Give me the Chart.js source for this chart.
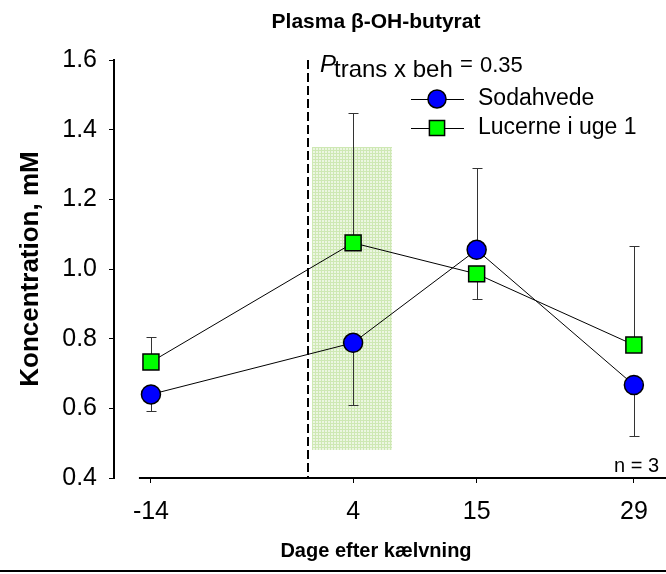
<!DOCTYPE html>
<html>
<head>
<meta charset="utf-8">
<script src="https://cdn.jsdelivr.net/npm/chart.js@4/dist/chart.umd.min.js"></script>
<style>
  body { margin: 0; background: #fff; }
</style>
</head>
<body>
<canvas id="chart" width="666" height="574"></canvas>
<script>
// data
const days = [-14, 4, 15, 29];
const sodaMean = [0.640, 0.788, 1.055, 0.667];
const sodaSE = [0.049, 0.177, 0.235, 0.146];
const sodaSide = [-1, -1, 1, -1];
const lucMean = [0.733, 1.075, 0.986, 0.782];
const lucSE = [0.072, 0.373, 0.072, 0.284];
const lucSide = [1, 1, -1, 1];
const seriesNames = ["Sodahvede", "Lucerne i uge 1"];
const yTickValues = [0.4, 0.6, 0.8, 1.0, 1.2, 1.4, 1.6];

// calving marker and the "week 1" band
const calving = 0;
const bandDays = [0.3, 7.5];
const bandConc = [0.48, 1.35];
const xAxisStart = -15.07;

Chart.defaults.font.family = '"Liberation Sans", Arial, sans-serif';
Chart.defaults.color = "#000";

function toPoints(means){
    return days.map(function(d, i){ return {x: d, y: means[i]}; });
}

// small dotted tile like the hatch in the original
function makeHatch(ctx){
    var tile = document.createElement("canvas");
    tile.width = 3;
    tile.height = 3;
    var t = tile.getContext("2d");
    t.fillStyle = "rgb(236,246,226)";
    t.fillRect(0, 0, 3, 3);
    t.fillStyle = "rgb(206,232,180)";
    t.fillRect(0, 0, 3, 1);
    t.fillRect(0, 0, 1, 3);
    return ctx.createPattern(tile, "repeat");
}

const extras = {
    id: "extras",
    beforeDatasetsDraw: function(chart){
        const ctx = chart.ctx;
        const xs = chart.scales.x;
        const ys = chart.scales.y;
        const area = chart.chartArea;

        // shaded band
        ctx.save();
        ctx.fillStyle = makeHatch(ctx);
        const bx = Math.round(xs.getPixelForValue(bandDays[0]));
        const by = Math.round(ys.getPixelForValue(bandConc[1]));
        ctx.fillRect(bx, by, Math.round(xs.getPixelForValue(bandDays[1])) - bx, Math.round(ys.getPixelForValue(bandConc[0])) - by);

        // dashed line at calving
        const cx = Math.round(xs.getPixelForValue(calving));
        ctx.strokeStyle = "#000";
        ctx.lineWidth = 2;
        ctx.setLineDash([9, 4]);
        ctx.beginPath();
        ctx.moveTo(cx, area.top);
        ctx.lineTo(cx, area.bottom);
        ctx.stroke();
        ctx.setLineDash([]);

        // error bars (one side only)
        ctx.strokeStyle = "#333";
        ctx.lineWidth = 1;
        [[sodaMean, sodaSE, sodaSide], [lucMean, lucSE, lucSide]].forEach(function(s){
            days.forEach(function(d, i){
                const px = Math.round(xs.getPixelForValue(d)) + 0.5;
                const y0 = ys.getPixelForValue(s[0][i]);
                const y1 = Math.round(ys.getPixelForValue(s[0][i] + s[2][i] * s[1][i])) + 0.5;
                ctx.beginPath();
                ctx.moveTo(px, y0);
                ctx.lineTo(px, y1);
                ctx.moveTo(px - 5, y1);
                ctx.lineTo(px + 5, y1);
                ctx.stroke();
            });
        });
        ctx.restore();
    },
    afterDraw: function(chart){
        const ctx = chart.ctx;
        const xs = chart.scales.x;
        const area = chart.chartArea;
        ctx.save();

        // x axis line (starts right of the y axis)
        ctx.strokeStyle = "#000";
        ctx.lineWidth = 2;
        ctx.beginPath();
        ctx.moveTo(xs.getPixelForValue(xAxisStart), area.bottom);
        ctx.lineTo(area.right, area.bottom);
        ctx.stroke();

        // bottom border
        ctx.beginPath();
        ctx.moveTo(0, 571);
        ctx.lineTo(666, 571);
        ctx.stroke();

        // titles
        ctx.fillStyle = "#000";
        ctx.textAlign = "center";
        ctx.textBaseline = "alphabetic";
        ctx.font = 'bold 21px "Liberation Sans", Arial, sans-serif';
        ctx.fillText("Plasma \u03b2-OH-butyrat", 376, 28);
        ctx.font = 'bold 20px "Liberation Sans", Arial, sans-serif';
        ctx.fillText("Dage efter k\u00e6lvning", 376, 557);

        // P value text
        ctx.textAlign = "left";
        ctx.font = 'italic 24px "Liberation Sans", Arial, sans-serif';
        ctx.fillText("P", 320, 72);
        ctx.font = '24px "Liberation Sans", Arial, sans-serif';
        ctx.fillText("trans x beh", 334, 77);
        ctx.font = '22px "Liberation Sans", Arial, sans-serif';
        ctx.fillText("=", 460, 71);
        ctx.fillText("0.35", 480, 72);

        // n = 3
        ctx.textAlign = "right";
        ctx.font = '20px "Liberation Sans", Arial, sans-serif';
        ctx.fillText("n = 3", 659, 472);

        // legend
        ctx.textAlign = "left";
        ctx.textBaseline = "middle";
        ctx.font = '23px "Liberation Sans", Arial, sans-serif';
        const rows = [99, 128];
        chart.data.datasets.forEach(function(ds, i){
            const y = rows[i];
            ctx.strokeStyle = "#000";
            ctx.lineWidth = 1;
            ctx.beginPath();
            ctx.moveTo(411, y + 0.5);
            ctx.lineTo(464, y + 0.5);
            ctx.stroke();
            ctx.fillStyle = ds.pointBackgroundColor;
            ctx.strokeStyle = ds.pointBorderColor;
            ctx.lineWidth = ds.pointBorderWidth;
            Chart.helpers.drawPoint(ctx, {
                pointStyle: ds.pointStyle,
                radius: ds.pointRadius * 0.95,
                rotation: 0,
                borderWidth: ds.pointBorderWidth
            }, 437, y);
            ctx.fillStyle = "#000";
            ctx.fillText(ds.label, 478, y);
        });
        ctx.restore();
    }
};

new Chart(document.getElementById("chart"), {
    type: "line",
    data: {
        datasets: [{
            label: seriesNames[0],
            data: toPoints(sodaMean),
            borderColor: "#000",
            borderWidth: 1,
            pointStyle: "circle",
            pointRadius: 9.5,
            pointBackgroundColor: "#0000ff",
            pointBorderColor: "#000",
            pointBorderWidth: 1.5,
            order: 1
        }, {
            label: seriesNames[1],
            data: toPoints(lucMean),
            borderColor: "#000",
            borderWidth: 1,
            pointStyle: "rect",
            pointRadius: 11.3,
            pointBackgroundColor: "#00ff00",
            pointBorderColor: "#000",
            pointBorderWidth: 1.5,
            order: 2
        }]
    },
    options: {
        responsive: false,
        animation: false,
        events: [],
        layout: {
            autoPadding: false,
            padding: { top: 60, right: 0, left: 0, bottom: 0 }
        },
        plugins: {
            legend: { display: false },
            title: { display: false },
            tooltip: { enabled: false }
        },
        scales: {
            x: {
                type: "linear",
                min: -17.29,
                max: 31.86,
                afterBuildTicks: function(scale){
                    scale.ticks = days.map(function(d){ return {value: d}; });
                },
                afterFit: function(scale){
                    scale.height = 96;
                    scale.paddingLeft = 0;
                    scale.paddingRight = 0;
                    if (scale._margins) scale._margins.right = 0;
                },
                border: { display: false },
                grid: {
                    drawOnChartArea: false,
                    drawTicks: true,
                    tickLength: 5,
                    color: "#000",
                    lineWidth: 1
                },
                ticks: {
                    font: { size: 25 },
                    padding: 14,
                    maxRotation: 0,
                    autoSkip: false
                }
            },
            y: {
                min: 0.4,
                max: 1.6,
                afterBuildTicks: function(scale){
                    scale.ticks = yTickValues.map(function(v){ return {value: v}; });
                },
                afterFit: function(scale){ scale.width = 114; },
                border: { display: true, color: "#000", width: 2 },
                grid: {
                    drawOnChartArea: false,
                    drawTicks: true,
                    tickLength: 5,
                    color: "#000",
                    lineWidth: 1
                },
                ticks: {
                    font: { size: 25 },
                    padding: 12,
                    callback: function(v){ return v.toFixed(1); }
                },
                title: {
                    display: true,
                    text: "Koncentration, mM",
                    font: { size: 26, weight: "bold" },
                    padding: { top: 15, bottom: 0 }
                }
            }
        }
    },
    plugins: [extras]
});
</script>
</body>
</html>
